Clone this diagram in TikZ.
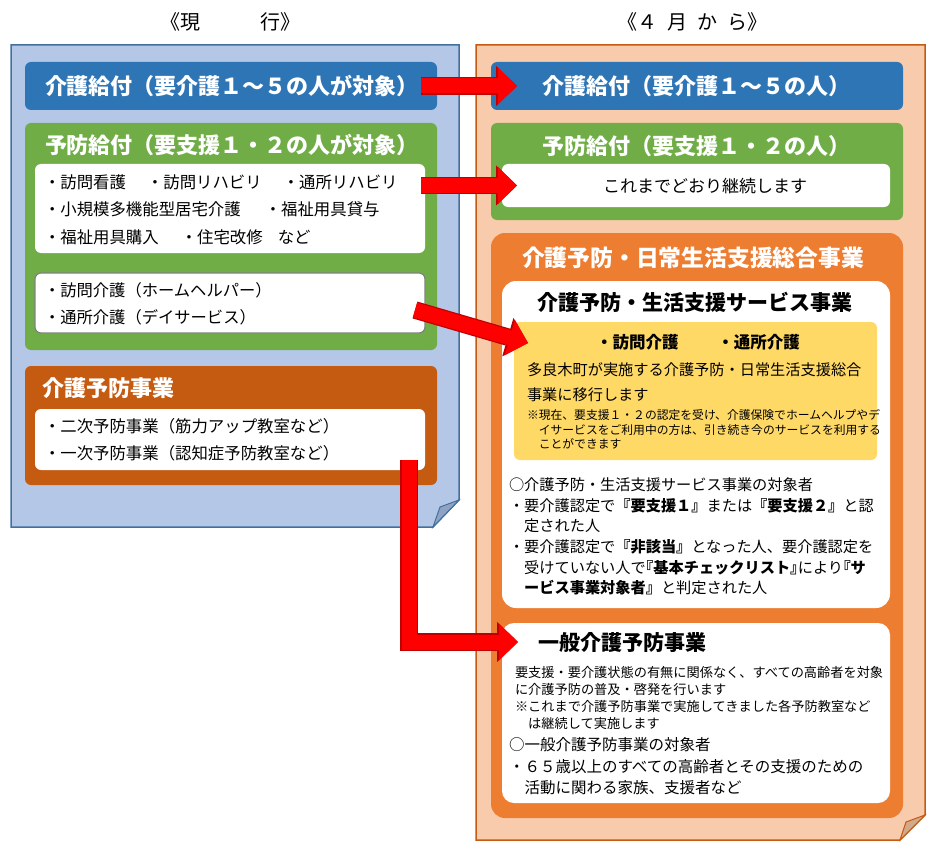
\documentclass[tikz,border=0pt]{standalone}
\usepackage{fontspec}
\setmainfont{Noto Sans CJK JP}
\usepackage{xcolor}
\usepackage{tikz}
\usetikzlibrary{arrows.meta}

\definecolor{lpanel}{HTML}{B4C7E7}
\definecolor{lborder}{HTML}{41719C}
\definecolor{lfold}{HTML}{91A3C4}
\definecolor{rpanel}{HTML}{F8CBAD}
\definecolor{rborder}{HTML}{C55A11}
\definecolor{rfold}{HTML}{D3A98C}
\definecolor{kblue}{HTML}{2E75B6}
\definecolor{kgreen}{HTML}{70AD47}
\definecolor{kbrown}{HTML}{C55A11}
\definecolor{korange}{HTML}{ED7D31}
\definecolor{kyellow}{HTML}{FFD966}
\definecolor{kred}{HTML}{FF0000}
\definecolor{kdarkred}{HTML}{C00000}

\newcommand\hlb{\kern-.5em『}
\newcommand\hrb{』\kern-.5em}
\newcommand\maru{\makebox[1em][c]{○}}

\begin{document}
\begin{tikzpicture}[
  x=1pt, y=-1pt,
  every node/.style={inner sep=0pt, outer sep=0pt},
  box/.style={anchor=north west, rounded corners=6pt},
  title/.style={text=white, font=\bfseries\fontsize{22}{26}\selectfont},
  head/.style={font=\fontsize{20}{24}\selectfont},
  item/.style={anchor=west, align=left, font=\fontsize{16.4}{27.5}\selectfont},
  bigarrow/.style={draw=kred, line width=15pt, line join=miter,
    -{Triangle[length=19pt, width=37pt, line width=0pt]},
    preaction={draw=kdarkred, line width=17.5pt,
      -{Triangle[length=21pt, width=40pt, line width=0pt]}}}
]
  \useasboundingbox (0,0) rectangle (940,856);

  % headings
  \node[head] (hnow) at (230,22) {《現　　　行》};
  \node[head] (hapr) at (692,22) {《４\hspace{10pt}月\hspace{10pt}か\hspace{10pt}ら》};

  % the two sheets
  \draw[line width=1.5pt, draw=lborder, fill=lpanel]
    (11,45) -- (459,45) -- (459,500) -- (433,527) -- (11,527) -- cycle;
  \draw[line width=1pt, draw=lborder, fill=lfold] (433,527) -- (440,507) -- (459,500) -- cycle;
  \draw[line width=1.5pt, draw=rborder, fill=rpanel]
    (476,45) -- (925,45) -- (925,815) -- (900,840) -- (476,840) -- cycle;
  \draw[line width=1pt, draw=rborder, fill=rfold] (900,840) -- (906,822) -- (925,815) -- cycle;

  % left: current
  \node[box, fill=kblue, minimum width=412pt, minimum height=48pt] (lkaigo) at (25,62) {};
  \node[title] (lkaigot) at (232,86) {介護給付（要介護１～５の人が対象）};

  \node[box, fill=kgreen, minimum width=412pt, minimum height=227pt] (lyobo) at (25,123) {};
  \node[title] (lyobot) at (232,145) {予防給付（要支援１・２の人が対象）};
  \node[box, fill=white, minimum width=390pt, minimum height=89pt] (lserv1) at (35,164) {};
  \node[item] (lserv1t) at (44,209.5) {・訪問看護\hspace{21pt}・訪問リハビリ\hspace{21pt}・通所リハビリ\\
    ・小規模多機能型居宅介護\hspace{24pt}・福祉用具貸与\\
    ・福祉用具購入\hspace{22pt}・住宅改修\hspace{15pt}など};
  \node[box, fill=white, draw=gray, line width=1.2pt, minimum width=390pt, minimum height=60pt] (lserv2) at (35,273) {};
  \node[item, font=\fontsize{16.3}{27}\selectfont] (lserv2t) at (44,303.5) {・訪問介護（ホームヘルパー）\\・通所介護（デイサービス）};

  \node[box, fill=kbrown, minimum width=412pt, minimum height=119pt] (ljigyo) at (25,366) {};
  \node[title, anchor=west] (ljigyot) at (42,388) {介護予防事業};
  \node[box, fill=white, minimum width=390pt, minimum height=61pt] (lprev) at (35,409) {};
  \node[item, font=\fontsize{16.4}{26.5}\selectfont] (lprevt) at (44,440) {・二次予防事業（筋力アップ教室など）\\・一次予防事業（認知症予防教室など）};

  % right: from April
  \node[box, fill=kblue, minimum width=412pt, minimum height=48pt] (rkaigo) at (491,62) {};
  \node[title] (rkaigot) at (696,86) {介護給付（要介護１～５の人）};

  \node[box, fill=kgreen, minimum width=412pt, minimum height=97pt] (ryobo) at (491,123) {};
  \node[title] (ryobot) at (696,146) {予防給付（要支援１・２の人）};
  \node[box, fill=white, minimum width=388pt, minimum height=43pt] (rcont) at (502,164) {};
  \node[font=\fontsize{17}{20}\selectfont] (rcontt) at (705,186) {これまでどおり継続します};

  \node[box, rounded corners=14pt, fill=korange, minimum width=412pt, minimum height=585pt] (rsogo) at (491,233) {};
  \node[title, font=\bfseries\fontsize{22.8}{26}\selectfont] (rsogot) at (693,258) {介護予防・日常生活支援総合事業};

  \node[box, rounded corners=14pt, fill=white, minimum width=388pt, minimum height=327pt] (rserv) at (502,281) {};
  \node[font=\bfseries\fontsize{21}{24}\selectfont] (rservt) at (695,302) {介護予防・生活支援サービス事業};
  \node[box, fill=kyellow, minimum width=363pt, minimum height=138pt] (ryellow) at (514,322) {};
  \node[font=\bfseries\fontsize{16.5}{20}\selectfont] (ryellowt) at (698,342) {・訪問介護\hspace{39pt}・通所介護};
  \node[anchor=west, align=left, font=\fontsize{15.2}{25}\selectfont] (rmove) at (527,382.5)
    {多良木町が実施する介護予防・日常生活支援総合\\事業に移行します};
  \node[anchor=west, align=left, font=\fontsize{11.8}{14.3}\selectfont] (rnote) at (527,429.5)
    {※現在、要支援１・２の認定を受け、介護保険でホームヘルプやデ\\
     　イサービスをご利用中の方は、引き続き今のサービスを利用する\\
     　ことができます};
  \node[anchor=west, align=left, font=\fontsize{15.2}{20.6}\selectfont] (rtarget) at (509,536.5)
    {\maru 介護予防・生活支援サービス事業の対象者\\
     ・要介護認定で\textbf{『要支援１』}または\textbf{『要支援２』}と認\\
     　定された人\\
     ・要介護認定で\textbf{『非該当』}となった人、要介護認定を\\
     　受けていない人で\textbf{\hlb 基本チェックリスト\hrb}により\textbf{\hlb サ}\\
     　\textbf{ービス事業対象者』}と判定された人};

  \node[box, rounded corners=12pt, fill=white, minimum width=388pt, minimum height=180pt] (rgen) at (502,623) {};
  \node[anchor=west, font=\bfseries\fontsize{21}{24}\selectfont] (rgent) at (538,643) {一般介護予防事業};
  \node[anchor=west, align=left, font=\fontsize{13.2}{17}\selectfont] (rgendesc) at (515,697.5)
    {要支援・要介護状態の有無に関係なく、すべての高齢者を対象\\
     に介護予防の普及・啓発を行います\\
     ※これまで介護予防事業で実施してきました各予防教室など\\
     　は継続して実施します};
  \node[anchor=west, align=left, font=\fontsize{15.5}{21.5}\selectfont] (rgentarget) at (509,766.5)
    {\maru 一般介護予防事業の対象者\\
     ・６５歳以上のすべての高齢者とその支援のための\\
     　活動に関わる家族、支援者など};

  % arrows
  \draw[bigarrow] ([xshift=-16pt]lkaigo.east) -- ([xshift=26pt]rkaigo.west);
  \draw[bigarrow] ([xshift=-4pt]lserv1.east |- rcont.west) -- ([xshift=15pt]rcont.west);
  \draw[bigarrow] ([xshift=-10pt,yshift=-7pt]lserv2.east) -- ([xshift=14pt,yshift=-21pt]ryellow.north west);
  \draw[bigarrow] ([xshift=-16pt,yshift=10pt]lprev.south east) |- ([xshift=16pt,yshift=-19pt]rgen.north west);
\end{tikzpicture}
\end{document}
